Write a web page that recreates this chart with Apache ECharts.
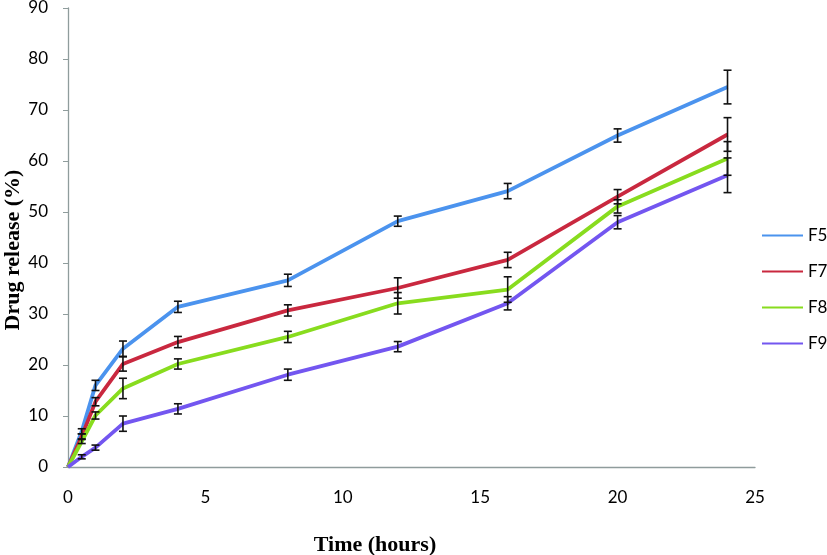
<!DOCTYPE html>
<html><head><meta charset="utf-8">
<script src="https://cdn.jsdelivr.net/npm/echarts@6/dist/echarts.min.js"></script>
<style>html,body{margin:0;padding:0;background:#fff}#c{width:827px;height:555px}</style>
</head><body><div id="c"></div>
<script>
const time = [0, 0.5, 1, 2, 4, 8, 12, 16, 20, 24];
const F5 = [0, 7.0, 16.0, 23.2, 31.4, 36.6, 48.2, 54.1, 65.0, 74.5];
const F5err = [0, 0.5, 1.0, 1.5, 1.1, 1.2, 1.0, 1.5, 1.3, 3.3];
const F7 = [0, 6.0, 12.8, 20.2, 24.5, 30.7, 35.1, 40.6, 53.0, 65.2];
const F7err = [0, 0.5, 0.8, 1.4, 1.1, 1.1, 2.0, 1.5, 1.4, 3.3];
const F8 = [0, 5.0, 10.1, 15.4, 20.2, 25.5, 32.1, 34.8, 51.1, 60.5];
const F8err = [0, 0.4, 0.7, 2.0, 1.0, 1.1, 2.1, 2.5, 1.3, 3.3];
const F9 = [0, 2.0, 3.8, 8.5, 11.4, 18.1, 23.6, 32.1, 48.0, 57.2];
const F9err = [0, 0.4, 0.5, 1.5, 1.0, 1.1, 1.0, 1.3, 1.3, 3.4];
const names = ['F5', 'F7', 'F8', 'F9'];
const colors = ['#4b93ee', '#c9283f', '#88dc1e', '#7356f0'];
const xTitle = 'Time (hours)';
const yTitle = 'Drug release (%)';

const vals = [F5, F7, F8, F9];
const errs = [F5err, F7err, F8err, F9err];

const chart = echarts.init(document.getElementById('c'));
const series = [];
vals.forEach((v, i) => {
  series.push({
    name: names[i], type: 'line', data: time.map((t, k) => [t, v[k]]),
    symbol: 'none', lineStyle: { width: 3.8, color: colors[i] }, itemStyle: { color: colors[i] }, z: 2
  });
});
vals.forEach((v, i) => {
  series.push({
    type: 'custom', z: 5, silent: true,
    data: time.map((t, k) => [t, v[k] - errs[i][k], v[k] + errs[i][k]]).filter(d => d[2] - d[1] > 0),
    renderItem: function (params, api) {
      const lo = api.coord([api.value(0), api.value(1)]);
      const hi = api.coord([api.value(0), api.value(2)]);
      const w = 4;
      const st = { stroke: '#111', lineWidth: 1.6 };
      return { type: 'group', children: [
        { type: 'line', shape: { x1: lo[0], y1: lo[1], x2: hi[0], y2: hi[1] }, style: st },
        { type: 'line', shape: { x1: lo[0] - w, y1: lo[1], x2: lo[0] + w, y2: lo[1] }, style: st },
        { type: 'line', shape: { x1: hi[0] - w, y1: hi[1], x2: hi[0] + w, y2: hi[1] }, style: st }
      ]};
    }
  });
});

chart.setOption({
  animation: false,
  grid: { left: 68, right: 72, top: 8, bottom: 88, outerBoundsMode: 'none', containLabel: false },
  legend: {
    data: names.map((n, i) => ({ name: n, itemStyle: { color: colors[i] }, lineStyle: { color: colors[i], width: 3.8 } })),
    orient: 'vertical', left: 757, top: 222, itemGap: 19, itemWidth: 41, itemHeight: 14,
    icon: 'path://M0,6 L41,6 L41,8 L0,8 Z',
    textStyle: { fontFamily: 'Lato', fontSize: 17, color: '#000' }
  },
  graphic: [
    { type: 'text', silent: true, x: 375, y: 545,
      style: { text: xTitle, x: 0, y: 0, align: 'center', verticalAlign: 'middle',
        font: 'bold 22px "Liberation Serif"', fill: '#000' } },
    { type: 'text', silent: true, x: 13, y: 250, rotation: Math.PI / 2,
      style: { text: yTitle, x: 0, y: 0, align: 'center', verticalAlign: 'middle',
        font: 'bold 22px "Liberation Serif"', fill: '#000' } }
  ],
  xAxis: {
    type: 'value', min: 0, max: 25, interval: 5,
    axisLine: { lineStyle: { color: '#8f9c9c', width: 1.3 } },
    axisTick: { show: false },
    axisLabel: { fontFamily: 'Lato', fontSize: 17, color: '#000', margin: 22 },
    splitLine: { show: false }
  },
  yAxis: {
    type: 'value', min: 0, max: 90, interval: 10,
    axisLine: { show: true, lineStyle: { color: '#8f9c9c', width: 1.3 } },
    axisTick: { show: true, inside: false, length: 5, lineStyle: { color: '#8f9c9c' } },
    axisLabel: { fontFamily: 'Lato', fontSize: 17, color: '#000', margin: 20 },
    splitLine: { show: false }
  },
  series: series
});
</script>
</body></html>
